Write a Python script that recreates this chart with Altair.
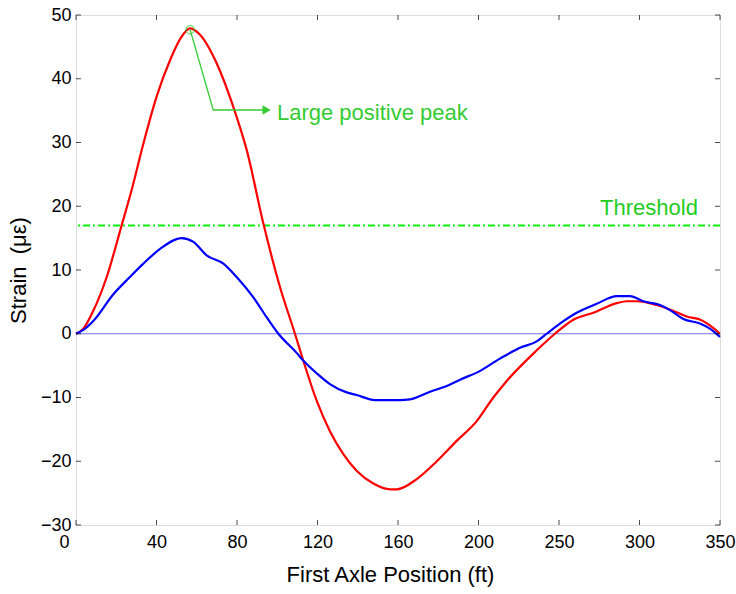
import altair as alt
import pandas as pd

# ---- data ----
red_x = [0, 4, 9.4, 16.7, 24.8, 30.2, 36.6, 43.8, 51.1, 57.4, 62, 67.4, 76.5, 85.5, 92.8,
         101.9, 110.9, 119, 123.5, 130.8, 138, 145.3, 152.5, 161.6, 170.7, 174.3, 185.2,
         196.1, 206.9, 217.8, 226.8, 234.1, 250.4, 260.3, 270.3, 281.2, 293.9, 299.3,
         304.7, 315.6, 323.8, 331.9, 340.1, 344.5, 350]
red_y = [0, 0.8, 3.6, 8.9, 17.0, 22.5, 29.8, 37.2, 42.9, 46.6, 47.9, 46.9, 42.4, 35.6, 28.8,
         17.2, 7.3, 0, -4.2, -10.5, -15.3, -18.9, -21.5, -23.5, -24.4, -24.4, -22.8,
         -20.0, -16.8, -13.7, -10.0, -7.4, -2.6, 0, 2.2, 3.3, 4.8, 5.1,
         5.1, 4.5, 3.7, 2.7, 2.1, 1.3, 0]

blue_x = [0, 4, 9.4, 20.3, 29.3, 36.6, 45.7, 57.4, 63.8, 71.0, 80.1, 87.3, 96.4, 103.6, 110,
          119.9, 123.5, 130.8, 138, 147.1, 152.5, 162.5, 176.1, 181.5, 192.4, 201.5, 208.7,
          217.8, 230.4, 241.3, 250.4, 255.8, 263, 272.1, 283, 293.9, 301.1, 308.4, 317.4,
          322.8, 330.1, 339.1, 344.5, 350]
blue_y = [0, 0.6, 2.0, 6.2, 8.9, 11.0, 13.3, 15.0, 14.4, 12.3, 11.0, 8.9, 5.7, 2.6, 0,
          -3.0, -4.2, -6.2, -7.9, -9.2, -9.6, -10.4, -10.4, -10.3, -9.1, -8.2, -7.2,
          -6.1, -3.9, -2.2, -1.2, 0, 1.6, 3.3, 4.7, 5.9, 5.9, 5.1, 4.5,
          3.7, 2.3, 1.6, 0.8, -0.5]

threshold = 17.0
peak_x, peak_y = 62.0, 47.7
arrow_x = [62.0, 74.6, 103.0]
arrow_y = [47.7, 35.1, 35.1]
arrow_head = (103.6, 35.1)

x_tick_pos = [0, 43.75, 87.5, 131.25, 175, 218.75, 262.5, 306.25, 350]
x_tick_lab = ["0", "40", "80", "120", "160", "200", "250", "300", "350"]
y_ticks = [-30, -20, -10, 0, 10, 20, 30, 40, 50]

FONT = "Liberation Sans"
W, H = 644, 510

curves = pd.concat([
    pd.DataFrame({"x": red_x, "y": red_y, "s": "red"}),
    pd.DataFrame({"x": blue_x, "y": blue_y, "s": "blue"}),
])

xs = alt.Scale(domain=[0, 350], nice=False, zero=False)
ys = alt.Scale(domain=[-30, 50], nice=False, zero=False)

lab_expr = "[" + ",".join("'%s'" % l for l in x_tick_lab) + "][round(datum.value/43.75)]"

xaxis = alt.Axis(values=x_tick_pos, labelExpr=lab_expr, title="First Axle Position (ft)",
                 grid=False, ticks=False, domain=False, labelFont=FONT, labelFontSize=18,
                 labelColor="black", labelPadding=8, labelFlush=False,
                 labelOffset={"condition": {"test": "datum.value === 0", "value": -12}, "value": 0},
                 titleFont=FONT, titleFontSize=22, titleFontWeight="normal", titleColor="black",
                 titlePadding=13, titleX=314)
yaxis = alt.Axis(values=y_ticks, title="Strain\u00a0\u00a0(με)", grid=False, ticks=False, domain=False,
                 labelFont=FONT, labelFontSize=18, labelColor="black", labelPadding=5,
                 labelFlush=False,
                 titleFont=FONT, titleFontSize=22, titleFontWeight="normal", titleColor="black",
                 titleX=-46, titleY=255, titleAlign="center", titleAngle=270)

base_zero = alt.Chart(pd.DataFrame({"v": [0]})).mark_rule(color="#7070ff", strokeWidth=1.2).encode(
    y=alt.Y("v:Q", scale=ys, axis=yaxis))

thr = alt.Chart(pd.DataFrame({"v": [threshold]})).mark_rule(
    color="#11ee11", strokeWidth=2, strokeDash=[7, 3, 2, 3]).encode(y=alt.Y("v:Q", scale=ys))

lines = alt.Chart(curves).mark_line(strokeWidth=2.2, interpolate="monotone").encode(
    x=alt.X("x:Q", scale=xs, axis=xaxis),
    y=alt.Y("y:Q", scale=ys),
    color=alt.Color("s:N", scale=alt.Scale(domain=["red", "blue"], range=["#ff0000", "#0000ff"]), legend=None),
    order="x:Q",
)

ann = alt.Chart(pd.DataFrame({"x": arrow_x, "y": arrow_y, "o": [0, 1, 2]})).mark_line(
    color="#33cc33", strokeWidth=1.3).encode(x=alt.X("x:Q", scale=xs), y=alt.Y("y:Q", scale=ys), order="o:Q")

circ = alt.Chart(pd.DataFrame({"x": [peak_x], "y": [peak_y]})).mark_point(
    shape="circle", filled=False, color="#33cc33", size=70, strokeWidth=1.2).encode(
    x=alt.X("x:Q", scale=xs), y=alt.Y("y:Q", scale=ys))

head = alt.Chart(pd.DataFrame({"x": [arrow_head[0]], "y": [arrow_head[1]]})).mark_point(
    shape="triangle-right", filled=True, color="#33cc33", opacity=1, size=90).encode(
    x=alt.X("x:Q", scale=xs), y=alt.Y("y:Q", scale=ys))

txt_peak = alt.Chart(pd.DataFrame({"x": [109.2], "y": [34.6], "t": ["Large positive peak"]})).mark_text(
    align="left", baseline="middle", font=FONT, fontSize=22, color="#33cc33").encode(
    x=alt.X("x:Q", scale=xs), y=alt.Y("y:Q", scale=ys), text="t:N")

txt_thr = alt.Chart(pd.DataFrame({"x": [338], "y": [19.7], "t": ["Threshold"]})).mark_text(
    align="right", baseline="middle", font=FONT, fontSize=22, color="#22cc22").encode(
    x=alt.X("x:Q", scale=xs), y=alt.Y("y:Q", scale=ys), text="t:N")

# inward axis ticks (box style)
tx = pd.DataFrame({"x": x_tick_pos})
ty = pd.DataFrame({"y": y_ticks})
tk = dict(color="black", thickness=1, size=5)
t_bottom = alt.Chart(tx).mark_tick(**tk).encode(x=alt.X("x:Q", scale=xs), y=alt.value(H - 2.5))
t_top = alt.Chart(tx).mark_tick(**tk).encode(x=alt.X("x:Q", scale=xs), y=alt.value(2.5))
t_left = alt.Chart(ty).mark_tick(**tk).encode(y=alt.Y("y:Q", scale=ys), x=alt.value(2.5))
t_right = alt.Chart(ty).mark_tick(**tk).encode(y=alt.Y("y:Q", scale=ys), x=alt.value(W - 2.5))

chart = alt.layer(base_zero, thr, lines, ann, circ, head, txt_peak, txt_thr,
                  t_bottom, t_top, t_left, t_right).properties(
    width=W, height=H, autosize="none",
    padding={"left": 76, "top": 15, "right": 16, "bottom": 69},
).configure_view(stroke="black", strokeWidth=1.3).configure(background="white")

chart.save("out.html", embed_options={"renderer": "svg", "actions": False})
